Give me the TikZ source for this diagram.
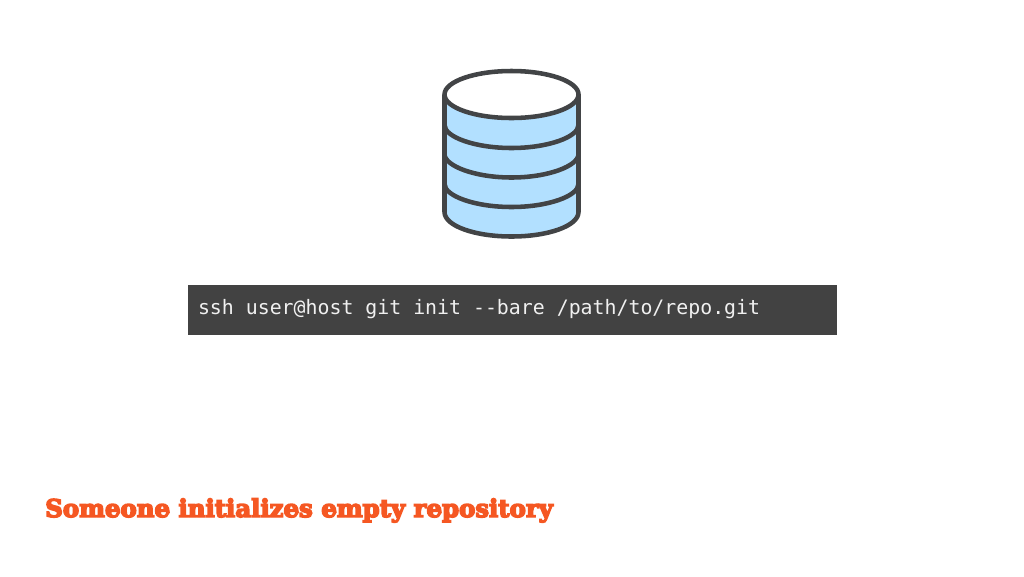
\documentclass[tikz,border=0pt]{standalone}
\usepackage{fontspec}
\usepackage{tikz}
\setmonofont{DejaVu Sans Mono}
\newfontfamily\slabfont[FakeBold=6]{DejaVu Serif Bold}
\definecolor{barfill}{RGB}{66,66,66}
\definecolor{barink}{RGB}{240,240,240}
\definecolor{diskfill}{RGB}{178,224,255}
\definecolor{diskline}{RGB}{66,68,70}
\definecolor{titleink}{RGB}{245,87,34}
\tikzset{
  diskedge/.style={draw=diskline,line width=3.4pt,line join=round,line cap=round},
  cmdbar/.style={fill=barfill,text=barink,minimum width=486.75pt,minimum height=37.5pt,inner sep=0pt,text height=11pt,text depth=5pt,font=\ttfamily\fontsize{14.9}{18}\selectfont},
  headline/.style={text=titleink,inner sep=0pt,font=\slabfont\fontsize{18.3}{24}\selectfont}
}

\begin{document}
\begin{tikzpicture}[x=0.75pt,y=0.75pt,yscale=-1,xscale=1]
\useasboundingbox (0,0) rectangle (1024,576);

%Shape: Cylinder body
\fill [diskfill] (444.5,95) -- (444.5,212) .. controls (444.5,226) and (475,236.5) .. (511.5,236.5) .. controls (548,236.5) and (578.5,226) .. (578.5,212) -- (578.5,95) -- cycle ;
%Straight Lines: bands
\draw [diskedge] (444.5,125) .. controls (444.5,137) and (475,148) .. (511.5,148) .. controls (548,148) and (578.5,137) .. (578.5,125) ;
\draw [diskedge] (444.5,154) .. controls (444.5,166) and (475,177.5) .. (511.5,177.5) .. controls (548,177.5) and (578.5,166) .. (578.5,154) ;
\draw [diskedge] (444.5,184) .. controls (444.5,196) and (475,207) .. (511.5,207) .. controls (548,207) and (578.5,196) .. (578.5,184) ;
%Shape: Cylinder outline
\draw [diskedge] (444.5,95) -- (444.5,212) .. controls (444.5,226) and (475,236.5) .. (511.5,236.5) .. controls (548,236.5) and (578.5,226) .. (578.5,212) -- (578.5,95) ;
%Shape: Ellipse
\draw [diskedge,fill=white] (511.5,94.5) ellipse [x radius=67,y radius=23.5];

% Text Node
\node [cmdbar,text width=471pt,align=left] (cmd) at (512,310) {\spaceskip=8.97pt\relax ssh user@host git init -{}-bare /path/to/repo.git};
% Text Node
\node [headline,anchor=base west] (title) at (45,517) {Someone initializes empty repository};

\end{tikzpicture}
\end{document}
